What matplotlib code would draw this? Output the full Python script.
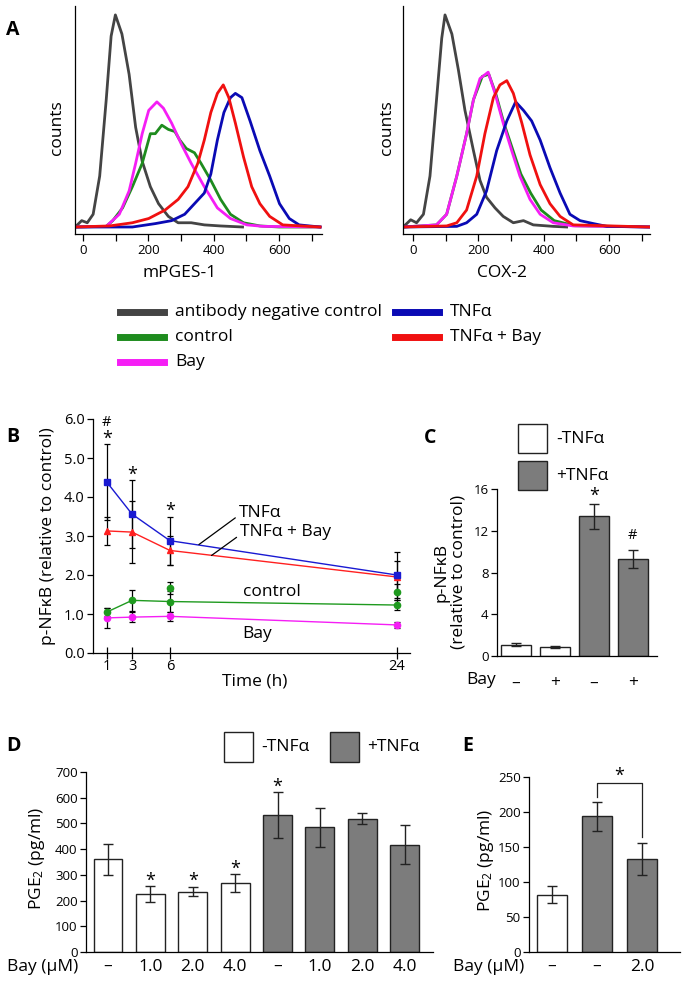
import matplotlib
matplotlib.use('Agg')
import matplotlib.pyplot as plt
from matplotlib.patches import Rectangle
from matplotlib.lines import Line2D
import numpy as np

plt.rcParams['font.family'] = ['Open Sans', 'DejaVu Sans']
plt.rcParams['mathtext.fontset'] = 'custom'
plt.rcParams['mathtext.rm'] = 'Open Sans'
plt.rcParams['mathtext.it'] = 'Open Sans:italic'
plt.rcParams['axes.linewidth'] = 0.9
plt.rcParams['xtick.major.width'] = 0.9
plt.rcParams['ytick.major.width'] = 0.9

# ---------------- panel A: histograms (counts scaled, neg. control peak = 100)
mp_neg_x = [-24, -4, 13, 31, 51, 71, 86, 99, 119, 141, 161, 181, 206, 231, 261, 291, 331, 371, 420, 488]
mp_neg_y = [0, 3, 2, 6, 24, 60, 90, 100, 91, 72, 47, 31, 19, 11, 5, 2, 2, 1, 0.5, 0]
mp_ctrl_x = [-24, 71, 91, 121, 151, 181, 206, 221, 241, 261, 281, 296, 316, 341, 361, 391, 421, 451, 491, 541, 600, 725]
mp_ctrl_y = [0, 0.3, 3, 9, 19, 30, 44, 44, 48, 46, 45, 41, 37, 35, 30, 22, 13, 6, 2, 0.5, 0, 0]
mp_bay_x = [-24, 71, 111, 141, 161, 181, 201, 226, 246, 271, 301, 331, 371, 411, 451, 501, 551, 725]
mp_bay_y = [0, 0.3, 6, 17, 30, 44, 55, 59, 56, 49, 39, 30, 19, 9, 4, 1, 0.3, 0]
mp_tnf_x = [-24, 151, 221, 271, 311, 341, 371, 391, 411, 431, 451, 466, 486, 511, 541, 571, 601, 631, 661, 725]
mp_tnf_y = [0, 0, 1.6, 3, 6, 11, 16, 25, 41, 54, 61, 63, 61, 50, 36, 24, 11, 4, 1, 0]
mp_tnfbay_x = [-24, 81, 151, 201, 251, 291, 321, 351, 371, 391, 411, 429, 446, 466, 491, 516, 541, 571, 611, 725]
mp_tnfbay_y = [0, 0.5, 2, 4, 8, 13, 19, 30, 41, 54, 63, 67, 61, 49, 33, 19, 11, 5, 1, 0]

cx_neg_x = [-30, -7, 11, 32, 52, 72, 88, 98, 119, 139, 159, 185, 205, 225, 251, 276, 307, 338, 368, 429, 470]
cx_neg_y = [0, 3.4, 2, 6, 24, 60, 89, 100, 91, 74, 55, 36, 22, 14, 9, 5, 2, 3, 1, 0.3, 0]
cx_ctrl_x = [-30, 72, 103, 134, 164, 185, 212, 232, 253, 278, 304, 330, 360, 392, 432, 495, 725]
cx_ctrl_y = [0, 1, 6, 24, 44, 60, 71, 72, 63, 49, 37, 25, 16, 8, 3, 0.6, 0]
cx_bay_x = [-30, 72, 103, 134, 164, 185, 205, 230, 251, 276, 302, 327, 358, 389, 429, 490, 725]
cx_bay_y = [0, 1, 6, 24, 44, 60, 70, 73, 63, 49, 36, 24, 13, 6, 2, 0.5, 0]
cx_tnf_x = [-30, 134, 164, 195, 225, 256, 287, 314, 338, 363, 389, 419, 450, 480, 511, 552, 593, 725]
cx_tnf_y = [0, 0.3, 2, 6, 17, 36, 50, 59, 55, 50, 41, 28, 16, 6, 3, 1.6, 0.3, 0]
cx_tnfbay_x = [-30, 103, 134, 164, 195, 220, 246, 266, 287, 307, 333, 358, 389, 419, 450, 490, 725]
cx_tnfbay_y = [0, 0.5, 2, 8, 24, 44, 61, 67, 69, 63, 49, 34, 20, 11, 5, 1, 0]

# ---------------- panel B: p-NFkB time course
times = [1, 3, 6, 24]
b_tnf = [4.38, 3.56, 2.88, 2.0]
b_tnf_err = [0.97, 0.87, 0.62, 0.6]
b_tnfbay = [3.13, 3.1, 2.63, 1.95]
b_tnfbay_err = [0.35, 0.8, 0.38, 0.41]
b_ctrl = [1.05, 1.35, 1.32, 1.23]
b_ctrl_err = [0.1, 0.27, 0.28, 0.12]
b_ctrl_extra_t = [6, 24]
b_ctrl_extra = [1.67, 1.57]
b_ctrl_extra_err = [0.16, 0.2]
b_bay = [0.9, 0.92, 0.94, 0.72]
b_bay_err = [0.25, 0.13, 0.12, 0.07]

# ---------------- panel C: p-NFkB at fixed time
c_labels = ['\u2013', '+', '\u2013', '+']
c_vals = [1.1, 0.9, 13.4, 9.3]
c_err = [0.12, 0.1, 1.2, 0.85]
c_tnf = [False, False, True, True]

# ---------------- panel D / E: PGE2
d_labels = ['\u2013', '1.0', '2.0', '4.0', '\u2013', '1.0', '2.0', '4.0']
d_vals = [360, 225, 235, 268, 532, 485, 518, 417]
d_err = [60, 30, 18, 35, 90, 75, 22, 76]
d_tnf = [False] * 4 + [True] * 4
d_star = [False, True, True, True, True, False, False, False]

e_labels = ['\u2013', '\u2013', '2.0']
e_vals = [82, 194, 133]
e_err = [12, 21, 23]
e_tnf = [False, True, True]

GREY = '#444444'
GREEN = '#1e8c1e'
MAGENTA = '#f51ef5'
BLUE = '#0a0ab4'
RED = '#f01010'
BAR_GREY = '#7c7c7c'

W, H = 685, 994
fig = plt.figure(figsize=(W / 100, H / 100), dpi=100)


def box(x0, y0, x1, y1):
    return [x0 / W, 1 - y1 / H, (x1 - x0) / W, (y1 - y0) / H]


def ftext(x, y, s, **kw):
    kw.setdefault('ha', 'center')
    kw.setdefault('va', 'center')
    return fig.text(x / W, 1 - y / H, s, **kw)


def style(ax):
    ax.spines['top'].set_visible(False)
    ax.spines['right'].set_visible(False)


# ===== A =====
hist_sets = [
    (box(75, 6, 322, 234), (-24.5, 731),
     [(mp_neg_x, mp_neg_y, GREY), (mp_ctrl_x, mp_ctrl_y, GREEN), (mp_bay_x, mp_bay_y, MAGENTA),
      (mp_tnf_x, mp_tnf_y, BLUE), (mp_tnfbay_x, mp_tnfbay_y, RED)]),
    (box(403, 6, 650, 234), (-30.5, 725),
     [(cx_neg_x, cx_neg_y, GREY), (cx_ctrl_x, cx_ctrl_y, GREEN), (cx_bay_x, cx_bay_y, MAGENTA),
      (cx_tnf_x, cx_tnf_y, BLUE), (cx_tnfbay_x, cx_tnfbay_y, RED)]),
]
for rect, xl, curves in hist_sets:
    ax = fig.add_axes(rect)
    style(ax)
    for x, y, c in curves:
        ax.plot(x, y, color=c, lw=2.0, solid_joinstyle='round')
    ax.set_xlim(*xl)
    ax.set_ylim(-3.3, 104.2)
    ax.set_yticks([])
    ax.set_xticks(range(0, 701, 100))
    ax.set_xticklabels(['0', '', '200', '', '400', '', '600', ''])
    ax.tick_params(axis='x', direction='out', length=5, labelsize=9.5, pad=2)

ftext(13, 30, 'A', fontsize=14, fontweight='bold')
ftext(57, 128, 'counts', rotation=90, fontsize=12.5)
ftext(387, 128, 'counts', rotation=90, fontsize=12.5)
ftext(180, 273, 'mPGES-1', fontsize=12.5)
ftext(502, 273, 'COX-2', fontsize=12.5)

legend_items = [
    (120, 312, GREY, 'antibody negative control'),
    (120, 337, GREEN, 'control'),
    (120, 362, MAGENTA, 'Bay'),
    (395, 312, BLUE, 'TNF\u03b1'),
    (395, 337, RED, 'TNF\u03b1 + Bay'),
]
for x, y, c, lab in legend_items:
    fig.add_artist(Line2D([x / W, (x + 44) / W], [1 - y / H, 1 - y / H], color=c, lw=5,
                          transform=fig.transFigure))
    ftext(x + 55, y, lab, ha='left', fontsize=12.5)

# ===== B =====
axb = fig.add_axes(box(93, 419, 410, 653))
style(axb)
err_kw = dict(ecolor='black', elinewidth=0.9, capsize=2.5, capthick=0.9, lw=1.0, ms=4.5)
axb.errorbar(times, b_bay, yerr=b_bay_err, color=MAGENTA, marker='o', **err_kw)
axb.errorbar(times, b_ctrl, yerr=b_ctrl_err, color='#1f9a1f', marker='o', **err_kw)
axb.errorbar(b_ctrl_extra_t, b_ctrl_extra, yerr=b_ctrl_extra_err, color='#1f9a1f', marker='o',
             ls='none', ecolor='black', elinewidth=0.9, capsize=2.5, capthick=0.9, ms=4.5)
axb.errorbar(times, b_tnfbay, yerr=b_tnfbay_err, color='#ff2020', marker='^', **err_kw)
axb.errorbar(times, b_tnf, yerr=b_tnf_err, color='#1a1ad2', marker='s', **err_kw)
axb.set_xlim(-0.1, 25.05)
axb.set_ylim(0, 6)
axb.set_xticks(times)
axb.set_yticks(np.arange(0, 6.1, 1.0))
axb.set_yticklabels([f'{v:.1f}' for v in np.arange(0, 6.1, 1.0)])
axb.tick_params(axis='x', direction='inout', length=9, labelsize=10.5, pad=0)
axb.tick_params(axis='y', direction='out', length=4, labelsize=10.5, pad=2)
axb.text(1, 5.92, '#', ha='center', va='center', fontsize=10.5)
axb.text(1, 5.50, '*', ha='center', va='center', fontsize=13)
axb.text(3, 4.58, '*', ha='center', va='center', fontsize=13)
axb.text(6, 3.65, '*', ha='center', va='center', fontsize=13)
axb.annotate('TNF\u03b1', xy=(8.3, 2.78), xytext=(11.5, 3.6), fontsize=12.5, ha='left', va='center',
             arrowprops=dict(arrowstyle='-', lw=0.9, color='black', shrinkA=1, shrinkB=0, relpos=(0, 0.35)))
axb.annotate('TNF\u03b1 + Bay', xy=(9.3, 2.5), xytext=(11.6, 3.1), fontsize=12.5, ha='left', va='center',
             arrowprops=dict(arrowstyle='-', lw=0.9, color='black', shrinkA=1, shrinkB=0, relpos=(0, 0.35)))
axb.text(14.1, 1.56, 'control', ha='center', va='center', fontsize=12.5)
axb.text(12.9, 0.5, 'Bay', ha='center', va='center', fontsize=12.5)

ftext(13, 437, 'B', fontsize=14, fontweight='bold')
ftext(48, 536, 'p-NF\u03baB (relative to control)', rotation=90, fontsize=12.5)
ftext(255, 682, 'Time (h)', fontsize=12.5)

# ===== C =====
axc = fig.add_axes(box(497, 489, 657, 656))
style(axc)
xc = np.arange(len(c_vals))
axc.bar(xc, c_vals, width=0.77, color=[BAR_GREY if t else 'white' for t in c_tnf],
        edgecolor='#222222', lw=1.0, zorder=2)
axc.errorbar(xc, c_vals, yerr=c_err, fmt='none', ecolor='#222222', elinewidth=1.0, capsize=3.5,
             capthick=1.0, zorder=3)
axc.set_xlim(-0.49, 3.62)
axc.set_ylim(0, 16)
axc.set_yticks([0, 4, 8, 12, 16])
axc.set_xticks(xc)
axc.set_xticklabels(c_labels)
axc.tick_params(axis='x', length=0, labelsize=12.5, pad=14)
axc.tick_params(axis='y', direction='out', length=4, labelsize=9.5, pad=2)
axc.text(2, 15.3, '*', ha='center', va='center', fontsize=13)
axc.text(3, 11.5, '#', ha='center', va='center', fontsize=10.5)

ftext(430, 438, 'C', fontsize=14, fontweight='bold')
ftext(450, 572, 'p-NF\u03baB\n(relative to control)', rotation=90, fontsize=12.5, linespacing=1.1)
ftext(481, 680, 'Bay', fontsize=12.5)
for y0, fc, lab in [(424, 'white', '-TNF\u03b1'), (461, BAR_GREY, '+TNF\u03b1')]:
    fig.add_artist(Rectangle((518 / W, 1 - (y0 + 29) / H), 29 / W, 29 / H, facecolor=fc,
                             edgecolor='#222222', lw=1.0, transform=fig.transFigure))
    ftext(556, y0 + 15, lab, ha='left', fontsize=12.5)

# ===== D =====
axd = fig.add_axes(box(86, 772, 433, 952))
style(axd)
xd = np.arange(len(d_vals))
axd.bar(xd, d_vals, width=0.68, color=[BAR_GREY if t else 'white' for t in d_tnf],
        edgecolor='#222222', lw=1.0, zorder=2)
axd.errorbar(xd, d_vals, yerr=d_err, fmt='none', ecolor='#222222', elinewidth=1.0, capsize=3.5,
             capthick=1.0, zorder=3)
for i, s in enumerate(d_star):
    if s:
        axd.text(i, d_vals[i] + d_err[i] + 22, '*', ha='center', va='center', fontsize=13)
axd.set_xlim(-0.52, 7.67)
axd.set_ylim(0, 700)
axd.set_yticks(range(0, 701, 100))
axd.set_xticks(xd)
axd.set_xticklabels(d_labels)
axd.tick_params(axis='x', length=0, labelsize=12.5, pad=5)
axd.tick_params(axis='y', direction='out', length=4, labelsize=9.5, pad=2)

ftext(13, 746, 'D', fontsize=14, fontweight='bold')
ftext(37, 858, 'PGE$_2$ (pg/ml)', rotation=90, fontsize=12.5)
ftext(43, 967, 'Bay (\u03bcM)', fontsize=12.5)
for x0, fc, lab in [(224, 'white', '-TNF\u03b1'), (330, BAR_GREY, '+TNF\u03b1')]:
    fig.add_artist(Rectangle((x0 / W, 1 - 762 / H), 29 / W, 30 / H, facecolor=fc,
                             edgecolor='#222222', lw=1.0, transform=fig.transFigure))
    ftext(x0 + 37, 747, lab, ha='left', fontsize=12.5)

# ===== E =====
axe = fig.add_axes(box(529, 777, 680, 952))
style(axe)
xe = np.arange(len(e_vals))
axe.bar(xe, e_vals, width=0.67, color=[BAR_GREY if t else 'white' for t in e_tnf],
        edgecolor='#222222', lw=1.0, zorder=2)
axe.errorbar(xe, e_vals, yerr=e_err, fmt='none', ecolor='#222222', elinewidth=1.0, capsize=3.5,
             capthick=1.0, zorder=3)
axe.set_xlim(-0.51, 2.84)
axe.set_ylim(0, 250)
axe.set_yticks(range(0, 251, 50))
axe.set_xticks(xe)
axe.set_xticklabels(e_labels)
axe.tick_params(axis='x', length=0, labelsize=12.5, pad=5)
axe.tick_params(axis='y', direction='out', length=4, labelsize=9.5, pad=2)
# significance bracket between TNF and TNF + Bay
top = 241
axe.plot([1, 1, 2, 2], [e_vals[1] + e_err[1] + 6, top, top, e_vals[2] + e_err[2] + 8],
         color='#222222', lw=0.9, clip_on=False)
axe.text(1.5, 252, '*', ha='center', va='center', fontsize=13, clip_on=False)

ftext(468, 746, 'E', fontsize=14, fontweight='bold')
ftext(486, 860, 'PGE$_2$ (pg/ml)', rotation=90, fontsize=12.5)
ftext(489, 967, 'Bay (\u03bcM)', fontsize=12.5)

fig.savefig('out.png', dpi=100)
